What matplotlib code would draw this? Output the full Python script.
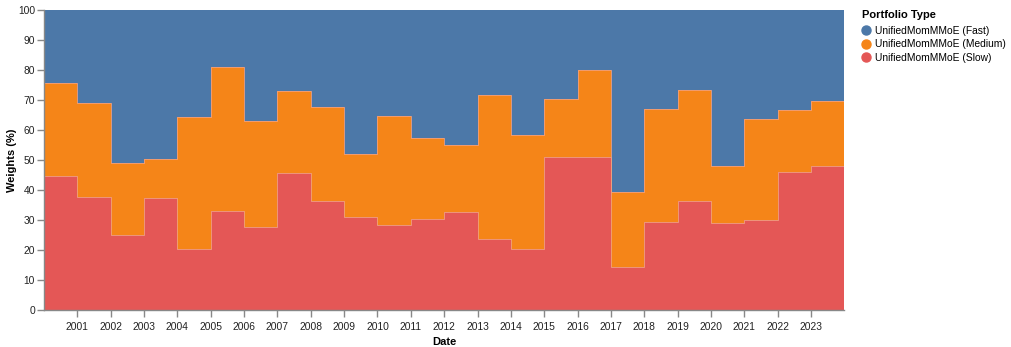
import numpy as np
import matplotlib.pyplot as plt
import matplotlib.dates as mdates
from matplotlib.lines import Line2D
from datetime import datetime

plt.rcParams['font.family'] = ['Liberation Sans', 'DejaVu Sans']

# yearly weights (%)
years = list(range(2000, 2024))
slow = [44.8, 37.8, 25.0, 37.4, 20.2, 33.1, 27.8, 45.6, 36.2, 30.9, 28.2, 30.4,
        32.7, 23.8, 20.2, 51.1, 50.9, 14.4, 29.3, 36.4, 28.9, 29.9, 46.1, 48.1]
slow_plus_medium = [75.6, 69.1, 49.0, 50.2, 64.2, 81.1, 62.9, 72.9, 67.6, 52.0, 64.8, 57.4,
                    55.0, 71.6, 58.2, 70.4, 79.9, 39.4, 67.1, 73.2, 47.9, 63.7, 66.7, 69.8]
labels = ['UnifiedMomMMoE (Fast)', 'UnifiedMomMMoE (Medium)', 'UnifiedMomMMoE (Slow)']
colors = ['#4c78a8', '#f58518', '#e45756']

slow = np.array(slow)
medium = np.array(slow_plus_medium) - slow
fast = 100 - slow - medium

# step edges: start of each year plus end of 2023
x = [datetime(y, 1, 1) for y in years] + [datetime(2023, 12, 29)]
s0 = np.append(slow, slow[-1])
s1 = s0 + np.append(medium, medium[-1])
s2 = s1 + np.append(fast, fast[-1])

fig = plt.figure(figsize=(10.11, 3.47), dpi=100)
ax = fig.add_axes([44 / 1011, 37 / 347, 800 / 1011, 300 / 347])

ax.fill_between(x, 0, s0, step='post', color=colors[2], lw=0)
ax.fill_between(x, s0, s1, step='post', color=colors[1], lw=0)
ax.fill_between(x, s1, s2, step='post', color=colors[0], lw=0)
ax.step(x, s0, where='post', color='#f0a080', lw=0.6)
ax.step(x, s1, where='post', color='#f0a080', lw=0.6)

ax.set_xlim(datetime(2000, 1, 1), datetime(2023, 12, 29))
ax.set_ylim(0, 100)
ax.set_yticks(range(0, 101, 10))
ax.xaxis.set_major_formatter(mdates.DateFormatter('%Y'))
ax.set_xticks([datetime(y, 1, 1) for y in range(2001, 2024)])

for side in ['top', 'right']:
    ax.spines[side].set_visible(False)
for side in ['bottom', 'left']:
    ax.spines[side].set_color('#888888')
    ax.spines[side].set_linewidth(1)
ax.tick_params(colors='#888888', length=5, width=1, labelsize=7.4, labelcolor='#222222', pad=1.5)
ax.tick_params(axis='x', pad=4)

ax.set_xlabel('Date', fontsize=8, fontweight='bold', labelpad=3)
ax.set_ylabel('Weights (%)', fontsize=8, fontweight='bold')
ax.yaxis.set_label_coords((17 - 44) / 800, 0.5)

# legend
fig.text(862 / 1011, 1 - 15 / 347, 'Portfolio Type', fontsize=8, fontweight='bold',
         va='center', ha='left')
handles = [Line2D([], [], marker='o', ls='', markersize=6.5, color=c) for c in colors]
fig.legend(handles, labels, loc='upper left',
           bbox_to_anchor=(861 / 1011, 1 - 26 / 347), frameon=False,
           fontsize=7.4, handletextpad=0.4, labelspacing=0.32,
           borderaxespad=0, borderpad=0, handlelength=1.0)

fig.savefig('out.png', dpi=100)
